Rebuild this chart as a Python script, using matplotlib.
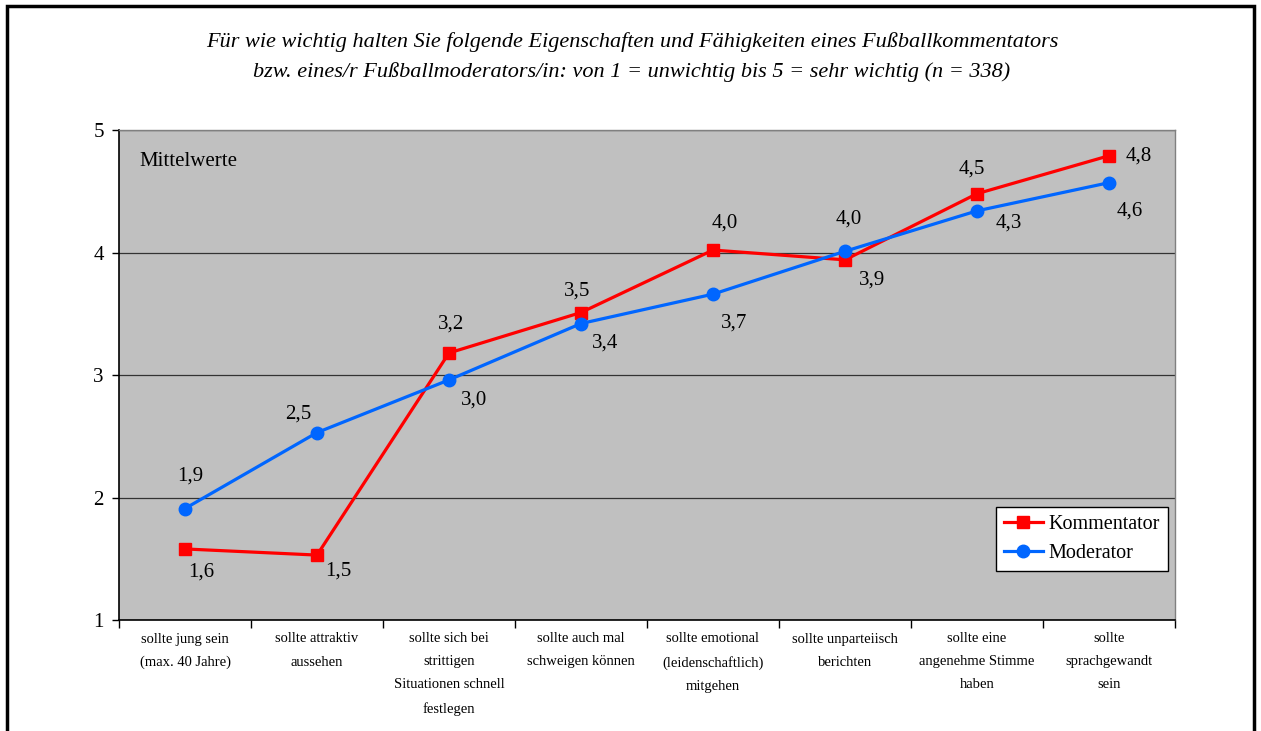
import numpy as np
import matplotlib.pyplot as plt
from matplotlib.patches import Rectangle

plt.rcParams['font.family'] = ['Liberation Serif', 'DejaVu Serif']

categories = [
    "sollte jung sein\n(max. 40 Jahre)",
    "sollte attraktiv\naussehen",
    "sollte sich bei\nstrittigen\nSituationen schnell\nfestlegen",
    "sollte auch mal\nschweigen können",
    "sollte emotional\n(leidenschaftlich)\nmitgehen",
    "sollte unparteiisch\nberichten",
    "sollte eine\nangenehme Stimme\nhaben",
    "sollte\nsprachgewandt\nsein",
]
kommentator = [1.58, 1.53, 3.18, 3.51, 4.02, 3.94, 4.48, 4.79]
moderator = [1.91, 2.53, 2.96, 3.42, 3.66, 4.01, 4.34, 4.57]

# label offsets in pixels (dx, dy) relative to each point
off_k = [(16, -23), (21, -16), (2, 29), (-4, 21), (12, 27), (27, -20), (-5, 25), (30, 0)]
off_m = [(5, 32), (-19, 19), (25, -20), (24, -19), (21, -29), (4, 32), (32, -12), (21, -28)]

W, H = 1261, 731
fig = plt.figure(figsize=(W / 100, H / 100), dpi=100)
ax = fig.add_axes([119 / W, 1 - 620 / H, (1175 - 119) / W, (620 - 130) / H])

# outer frame (bottom edge cut off like the original)
fig.patches.append(Rectangle((7 / W, -0.05), (1254 - 7) / W, 1.05 - 6 / H,
                             transform=fig.transFigure, fill=False,
                             edgecolor='black', linewidth=2.5))

x = np.arange(len(categories))
ax.set_facecolor('#C0C0C0')
ax.plot(x, kommentator, color='#FF0000', lw=2.3, marker='s', ms=9,
        label='Kommentator', zorder=3)
ax.plot(x, moderator, color='#0066FF', lw=2.3, marker='o', ms=9,
        label='Moderator', zorder=3)

for i in range(len(x)):
    ax.annotate(f"{kommentator[i]:.1f}".replace('.', ','), (x[i], kommentator[i]),
                xytext=off_k[i], textcoords='offset pixels',
                ha='center', va='center', fontsize=15)
    ax.annotate(f"{moderator[i]:.1f}".replace('.', ','), (x[i], moderator[i]),
                xytext=off_m[i], textcoords='offset pixels',
                ha='center', va='center', fontsize=15)

ax.set_xlim(-0.5, len(categories) - 0.5)
ax.set_ylim(1, 5)
ax.set_yticks([1, 2, 3, 4, 5])
ax.tick_params(axis='y', labelsize=15, length=5, width=1, pad=6)
ax.yaxis.grid(True, color='#333333', lw=0.9)
ax.set_axisbelow(True)

ax.set_xticks(np.arange(len(categories) + 1) - 0.5)
ax.set_xticklabels([])
ax.tick_params(axis='x', length=6, width=1)
ax.set_xticks(x, minor=True)
ax.set_xticklabels(categories, minor=True, fontsize=10.5, linespacing=2.0)
ax.tick_params(axis='x', which='minor', length=0, pad=9)

for s in ['left', 'bottom']:
    ax.spines[s].set_color('black')
    ax.spines[s].set_linewidth(1.2)
for s in ['top', 'right']:
    ax.spines[s].set_color('#808080')
    ax.spines[s].set_linewidth(1)

ax.text(0.019, 0.935, "Mittelwerte", transform=ax.transAxes, fontsize=15,
        ha='left', va='center')

leg = ax.legend(loc='lower right', bbox_to_anchor=(0.9934, 0.1), fontsize=14.5,
                fancybox=False, framealpha=1, edgecolor='black',
                handlelength=1.9, handletextpad=0.3, borderpad=0.4,
                labelspacing=0.5, borderaxespad=0)
leg.get_frame().set_linewidth(1)

fig.text(632 / W, 1 - 42 / H,
         "Für wie wichtig halten Sie folgende Eigenschaften und Fähigkeiten eines Fußballkommentators",
         ha='center', va='center', fontsize=16, style='italic')
fig.text(632 / W, 1 - 72 / H,
         "bzw. eines/r Fußballmoderators/in: von 1 = unwichtig bis 5 = sehr wichtig (n = 338)",
         ha='center', va='center', fontsize=16, style='italic')

fig.savefig('out.png', dpi=100)
